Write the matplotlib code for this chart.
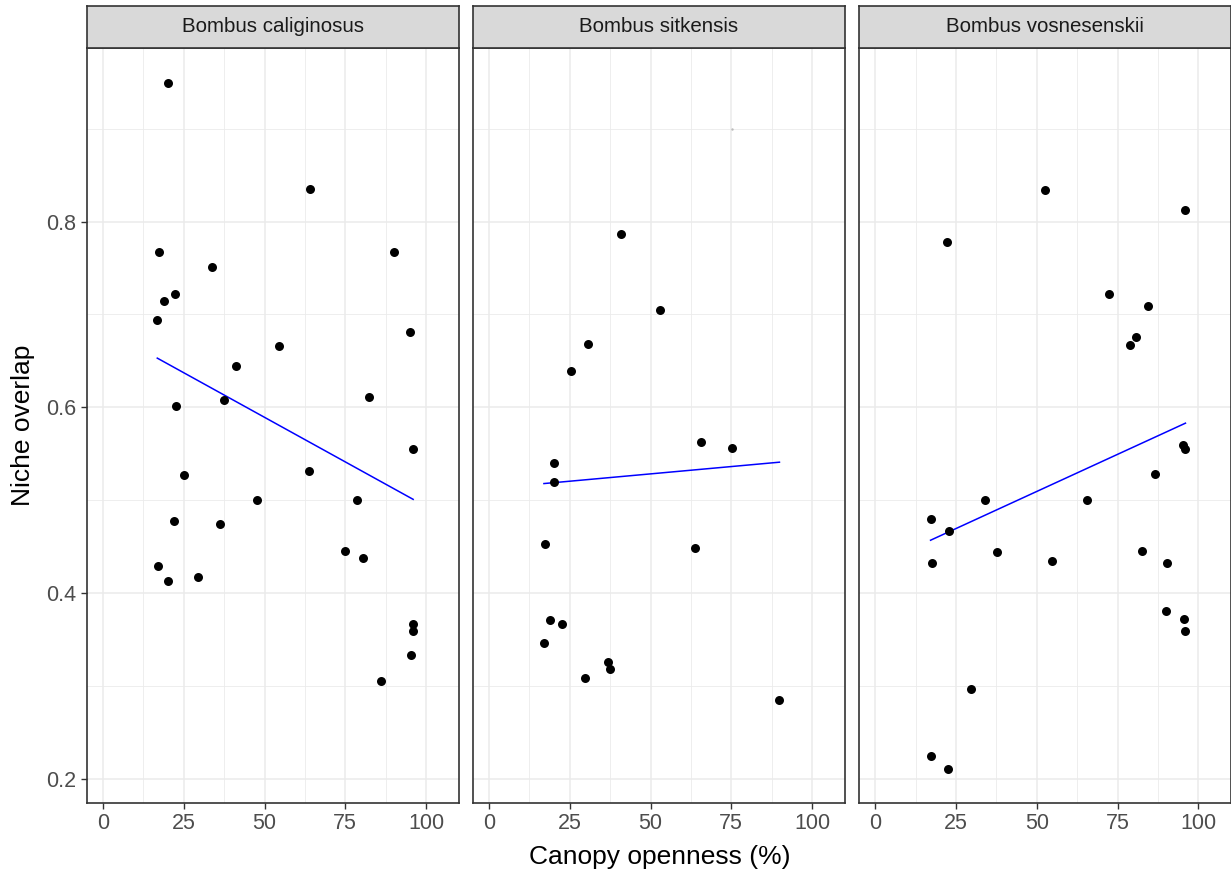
import matplotlib.pyplot as plt
import numpy as np

plt.rcParams['font.family'] = ['Liberation Sans', 'DejaVu Sans']

species = ["Bombus caliginosus", "Bombus sitkensis", "Bombus vosnesenskii"]

cal_x = [20.0, 64.1, 17.4, 90.2, 33.8, 22.2, 18.9, 16.8, 95.0, 54.5, 41.1, 82.4, 37.3, 22.6, 95.9,
         25.2, 63.7, 47.6, 78.6, 22.0, 36.3, 75.0, 80.4, 17.1, 29.5, 20.0, 96.0, 96.0, 95.4, 86.2]
cal_y = [0.949, 0.835, 0.767, 0.767, 0.751, 0.722, 0.714, 0.694, 0.681, 0.666, 0.644, 0.611, 0.608, 0.601, 0.555,
         0.527, 0.531, 0.500, 0.500, 0.478, 0.475, 0.445, 0.438, 0.429, 0.417, 0.413, 0.367, 0.359, 0.333, 0.306]

sit_x = [41.0, 52.8, 30.7, 25.3, 65.5, 75.2, 20.1, 20.1, 17.2, 63.8, 19.0, 22.5, 17.0, 36.7, 37.5, 29.8, 89.9]
sit_y = [0.787, 0.705, 0.668, 0.639, 0.563, 0.556, 0.540, 0.520, 0.453, 0.449, 0.371, 0.367, 0.346, 0.326,
         0.318, 0.309, 0.285]

vos_x = [52.4, 95.9, 22.3, 72.3, 84.3, 80.7, 78.8, 95.2, 96.0, 86.5, 34.1, 65.5, 17.1, 22.9, 37.6, 82.4, 54.8,
         17.4, 90.3, 89.9, 95.7, 95.8, 29.7, 17.1, 22.4]
vos_y = [0.834, 0.812, 0.778, 0.722, 0.709, 0.676, 0.667, 0.559, 0.555, 0.528, 0.500, 0.500, 0.480, 0.467, 0.444,
         0.445, 0.435, 0.433, 0.433, 0.381, 0.372, 0.359, 0.297, 0.225, 0.211]

# fitted trend lines (model predictions at the ends of each x range)
cal_fit_x = [16.8, 96.0]
cal_fit_y = [0.653, 0.501]
sit_fit_x = [17.0, 89.9]
sit_fit_y = [0.518, 0.541]
vos_fit_x = [17.1, 96.0]
vos_fit_y = [0.457, 0.583]

# faint stray point in the middle panel
stray_x = [75.1]
stray_y = [0.9]

data = [(cal_x, cal_y), (sit_x, sit_y), (vos_x, vos_y)]
fits = [(cal_fit_x, cal_fit_y), (sit_fit_x, sit_fit_y), (vos_fit_x, vos_fit_y)]

W, H = 1231, 873
fig = plt.figure(figsize=(W / 100, H / 100), dpi=100)

lefts = [86.7, 472.7, 859]
pw = 372
ptop, pbot = 48, 802.7
stop = 6

for i, (sp, (x, y), (fx, fy)) in enumerate(zip(species, data, fits)):
    ax = fig.add_axes([lefts[i] / W, 1 - pbot / H, pw / W, (pbot - ptop) / H])
    ax.set_xlim(-5.05, 110.1)
    ax.set_ylim(0.1745, 0.9868)
    ax.set_xticks([0, 25, 50, 75, 100])
    ax.set_xticks([12.5, 37.5, 62.5, 87.5], minor=True)
    ax.set_yticks([0.2, 0.4, 0.6, 0.8])
    ax.set_yticks([0.3, 0.5, 0.7, 0.9], minor=True)
    ax.grid(which='major', color='#EBEBEB', lw=1.1)
    ax.grid(which='minor', color='#EBEBEB', lw=0.6)
    ax.set_axisbelow(True)
    ax.tick_params(which='minor', length=0)
    ax.tick_params(which='major', length=4.3, width=1, color='#333333', labelsize=15.5,
                   labelcolor='#4D4D4D', pad=3)
    for s in ax.spines.values():
        s.set_color('#333333')
        s.set_linewidth(1.2)
    if i > 0:
        ax.set_yticklabels([])
        ax.tick_params(axis='y', length=0)

    ax.scatter(x, y, s=42, color='black', zorder=3, linewidths=0)
    ax.plot(fx, fy, color='blue', lw=1.1, zorder=2)
    if i == 1:
        ax.scatter(stray_x, stray_y, s=3, color='#BBBBBB', zorder=2, linewidths=0)

    sax = fig.add_axes([lefts[i] / W, 1 - ptop / H, pw / W, (ptop - stop) / H])
    sax.set_xticks([])
    sax.set_yticks([])
    sax.set_facecolor('#D9D9D9')
    for s in sax.spines.values():
        s.set_color('#333333')
        s.set_linewidth(1.2)
    sax.text(0.5, 0.5, sp, ha='center', va='center', fontsize=14.8, color='#1A1A1A', transform=sax.transAxes)

fig.text(660 / W, 1 - 857 / H, "Canopy openness (%)", ha='center', va='center', fontsize=19)
fig.text(23 / W, 1 - 425 / H, "Niche overlap", ha='center', va='center', fontsize=19, rotation=90)

fig.savefig("out.png", dpi=100)
